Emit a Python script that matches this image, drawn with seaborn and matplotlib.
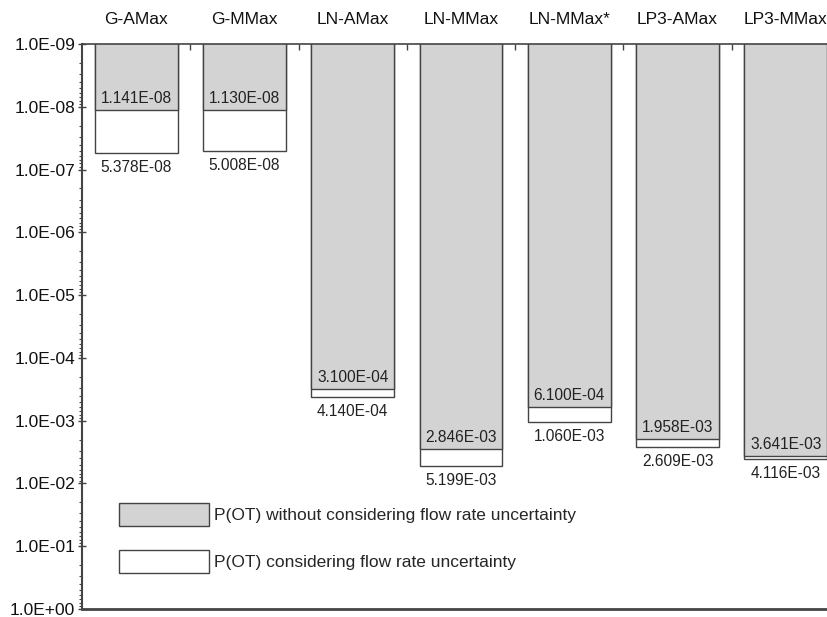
import numpy as np
import matplotlib
matplotlib.use("Agg")
import matplotlib.pyplot as plt
from matplotlib.patches import Patch
from matplotlib.ticker import FixedLocator, FuncFormatter, LogLocator, NullFormatter
import seaborn as sns

# Probability of overtopping per distribution / sampling scheme
categories = ["G-AMax", "G-MMax", "LN-AMax", "LN-MMax", "LN-MMax*", "LP3-AMax", "LP3-MMax"]
p_without_unc = [1.141e-08, 1.130e-08, 3.100e-04, 2.846e-03, 6.100e-04, 1.958e-03, 3.641e-03]
p_with_unc = [5.378e-08, 5.008e-08, 4.140e-04, 5.199e-03, 1.060e-03, 2.609e-03, 4.116e-03]
legend_labels = ["P(OT) without considering flow rate uncertainty",
                 "P(OT) considering flow rate uncertainty"]

sns.set_style("ticks")
plt.rcParams["font.family"] = ["Liberation Sans", "DejaVu Sans"]

GRAY = "#d3d3d3"
EDGE = "#444444"
BAR_W = 0.766

fig = plt.figure(figsize=(8.28, 6.17), dpi=100)
ax = fig.add_axes([82 / 828, 8 / 617, 758 / 828, 565 / 617])

# white (with uncertainty) bars behind, gray bars in front
sns.barplot(x=categories, y=p_with_unc, color="white", edgecolor=EDGE, linewidth=1.0,
            width=BAR_W, saturation=1, ax=ax)
sns.barplot(x=categories, y=p_without_unc, color=GRAY, edgecolor=EDGE, linewidth=1.0,
            width=BAR_W, saturation=1, ax=ax)

ax.set_yscale("log")
ax.set_ylim(1.0, 1e-9)
ax.set_xlim(-0.5, len(categories) - 0.5)

for i, (g, w) in enumerate(zip(p_without_unc, p_with_unc)):
    ax.annotate(f"{g:.3E}", xy=(i, g), xytext=(0, 3), textcoords="offset points",
                ha="center", va="bottom", fontsize=11.2, color="#222222")
    ax.annotate(f"{w:.3E}", xy=(i, w), xytext=(0, -5), textcoords="offset points",
                ha="center", va="top", fontsize=11.2, color="#222222")

# y axis: decades formatted as 1.0E-09 ...
ax.yaxis.set_major_locator(FixedLocator(10.0 ** np.arange(-9, 1)))
ax.yaxis.set_major_formatter(FuncFormatter(lambda v, _: f"{v:.1E}"))
ax.yaxis.set_minor_locator(LogLocator(base=10, subs=np.arange(2, 10), numticks=200))
ax.yaxis.set_minor_formatter(NullFormatter())
ax.tick_params(axis="y", which="major", direction="inout", length=6, width=1,
               color=EDGE, labelsize=12.5, pad=2, labelcolor="#111111")
ax.tick_params(axis="y", which="minor", direction="out", length=2.2, width=0.8, color=EDGE)
ax.set_ylabel("")

# x axis: category names on top, separator ticks between categories
ax.xaxis.tick_top()
ax.set_xlabel("")
ax.set_xticks(np.arange(len(categories)))
ax.set_xticklabels(categories)
ax.set_xticks(np.arange(len(categories) - 1) + 0.5, minor=True)
ax.tick_params(axis="x", which="major", length=0, pad=12, labelsize=12.5,
               labelcolor="#111111", top=True, bottom=False)
ax.tick_params(axis="x", which="minor", direction="in", length=4, width=1,
               color=EDGE, top=True, bottom=False)

for side in ["top", "left", "bottom", "right"]:
    ax.spines[side].set_color(EDGE)
ax.spines["top"].set_linewidth(1.2)
ax.spines["left"].set_linewidth(1.5)
ax.spines["bottom"].set_linewidth(2.0)
ax.spines["right"].set_visible(False)

handles = [Patch(facecolor=GRAY, edgecolor=EDGE, linewidth=1.0),
           Patch(facecolor="white", edgecolor=EDGE, linewidth=1.0)]
ax.legend(handles, legend_labels, loc="upper left", bbox_to_anchor=(0.049, 0.1876),
          frameon=False, fontsize=12.5, handlelength=5.17, handleheight=1.65,
          handletextpad=0.29, labelspacing=1.38, borderpad=0, borderaxespad=0)

fig.savefig("out.png", dpi=100)
